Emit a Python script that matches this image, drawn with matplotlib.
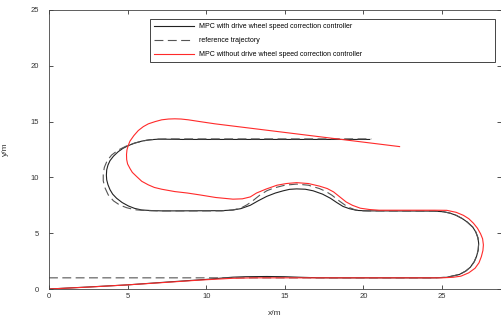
import matplotlib
matplotlib.use("Agg")
import matplotlib.pyplot as plt

plt.rcParams['font.family'] = ['Liberation Sans', 'DejaVu Sans']

# reference trajectory (dashed)
ref_x = [0, 24.5, 25.3, 26.1, 26.5, 26.8, 27.05, 27.2, 27.3, 27.33, 27.28,
         27.15, 26.95, 26.6, 26.3, 25.9, 25.5, 25.1, 24.5,
         20.0, 19.5, 19.0, 18.5, 18.0, 17.6, 17.2, 16.5, 15.75, 15.0, 14.3,
         13.85, 13.4, 13.0, 12.6, 12.2, 11.7, 11.0, 7.0, 6.2, 5.47, 4.95,
         4.5, 4.1, 3.77, 3.55, 3.45, 3.45, 3.52, 3.7, 3.98, 4.4, 4.9, 5.5,
         6.2, 6.9, 7.6, 20.5]
ref_y = [1, 1.0, 1.05, 1.3, 1.6, 1.95, 2.45, 2.95, 3.5, 4.1, 4.6,
         5.1, 5.55, 6.0, 6.3, 6.6, 6.8, 6.92, 6.98,
         7.0, 7.08, 7.35, 7.85, 8.4, 8.75, 9.0, 9.3, 9.4, 9.3, 9.05,
         8.8, 8.4, 7.95, 7.55, 7.25, 7.08, 7.0, 7.0, 7.02, 7.1, 7.28,
         7.52, 7.9, 8.43, 9.1, 9.7, 10.3, 10.9, 11.5, 12.0, 12.45, 12.8, 13.1,
         13.33, 13.43, 13.45, 13.45]

# MPC with drive wheel speed correction controller (black)
mpc_x = [0, 2.5, 5.0, 7.5, 10.0, 11.0, 11.7, 12.5, 13.85, 15.0, 16.0, 17.0,
         18.0, 24.5, 25.3, 26.1, 26.5, 26.8, 27.05, 27.2, 27.3, 27.33, 27.28,
         27.15, 26.95, 26.6, 26.3, 25.9, 25.5, 25.1, 24.5,
         21.0, 20.3, 19.6, 19.1, 18.7, 18.3, 17.9, 17.4, 16.8, 16.3, 15.75,
         15.3, 14.9, 14.4, 13.85, 13.3, 12.8, 12.2, 11.7, 11.0, 8.0, 7.17,
         6.5, 5.9, 5.45, 5.05, 4.65, 4.3, 4.05, 3.88, 3.75, 3.67, 3.65, 3.67,
         3.75, 3.88, 4.1, 4.4, 4.7, 5.05, 5.4, 5.9, 6.4, 6.9, 7.5, 8.5, 20.4]
mpc_y = [0, 0.18, 0.37, 0.62, 0.86, 0.98, 1.06, 1.1, 1.12, 1.1, 1.05, 1.01,
         1.0, 1.0, 1.05, 1.3, 1.6, 1.95, 2.45, 2.95, 3.5, 4.1, 4.6,
         5.1, 5.55, 6.0, 6.3, 6.6, 6.8, 6.92, 6.98,
         7.0, 7.0, 7.04, 7.2, 7.4, 7.75, 8.13, 8.5, 8.8, 8.94, 8.97,
         8.93, 8.8, 8.6, 8.3, 7.9, 7.5, 7.2, 7.08, 7.02, 7.0, 7.0,
         7.03, 7.08, 7.22, 7.44, 7.75, 8.13, 8.5, 8.9, 9.35, 9.78, 10.2, 10.67,
         11.1, 11.5, 11.9, 12.3, 12.6, 12.85, 13.05, 13.25, 13.37, 13.42,
         13.42, 13.4, 13.4]

# MPC without drive wheel speed correction controller (red)
red_x = [0, 2.5, 5.0, 7.5, 9.6, 11.7, 13.0, 25.0, 25.7, 26.2, 26.7, 27.1,
         27.35, 27.5, 27.6, 27.63, 27.58, 27.45, 27.25, 27.0, 26.7, 26.36,
         25.9, 25.3, 24.5, 21.0, 20.4, 19.8, 19.3, 18.9, 18.5, 18.1, 17.7,
         17.2, 16.5, 15.75, 15.1, 14.5, 13.8, 13.2, 12.8, 12.3, 11.7, 10.6,
         9.6, 8.8, 8.0, 7.17, 6.7, 6.32, 5.9, 5.58, 5.3, 5.15, 5.0, 4.94,
         4.93, 4.96, 5.05, 5.15, 5.4, 5.68, 6.0, 6.32, 6.75, 7.17, 7.6, 8.0,
         8.4, 8.86, 9.6, 10.56, 22.3]
red_y = [0, 0.17, 0.37, 0.6, 0.8, 0.96, 1.0, 1.0, 1.05, 1.15, 1.45, 1.86,
         2.35, 2.9, 3.45, 3.95, 4.5, 4.95, 5.45, 5.89, 6.3, 6.6,
         6.87, 7.05, 7.06, 7.06, 7.12, 7.24, 7.5, 7.8, 8.25, 8.7, 9.0,
         9.22, 9.45, 9.53, 9.45, 9.3, 8.95, 8.6, 8.25, 8.08, 8.05, 8.2,
         8.43, 8.6, 8.73, 8.94, 9.1, 9.33, 9.65, 10.07, 10.45, 10.8, 11.2, 11.6,
         12.05, 12.47, 12.9, 13.25, 13.75, 14.2, 14.55, 14.8, 15.0, 15.16,
         15.23, 15.25, 15.23, 15.16, 15.0, 14.8, 12.76]

labels = ['MPC with drive wheel speed correction controller',
          'reference trajectory',
          'MPC without drive wheel speed correction controller']

fig = plt.figure(figsize=(5.02, 3.2), dpi=100)
ax = fig.add_axes([49 / 502, 31 / 320, 452 / 502, 279 / 320])

ax.plot(mpc_x, mpc_y, color='#222222', lw=0.8, label=labels[0])
ax.plot(ref_x, ref_y, color='#555555', lw=0.8, ls=(0, (8, 4)), label=labels[1])
ax.plot(red_x, red_y, color='#ff2a2a', lw=0.8, label=labels[2])

ax.set_xlim(0, 28.75)
ax.set_ylim(0, 25)
ax.set_xticks([0, 5, 10, 15, 20, 25])
ax.set_yticks([0, 5, 10, 15, 20, 25])
ax.tick_params(direction='in', length=3, width=0.6, labelsize=5.5,
               colors='#333333', top=True, right=True)
ax.tick_params(axis='y', pad=7)
ax.tick_params(axis='x', pad=3)
ax.tick_params(labeltop=False, labelright=False)
for s in ax.spines.values():
    s.set_color('#444444')
    s.set_linewidth(0.6)

ax.set_xlabel('x/m', fontsize=6, color='#333333', labelpad=7)
ax.set_ylabel('y/m', fontsize=6, color='#333333', labelpad=16)

leg = ax.legend(loc='upper left', bbox_to_anchor=(0.223, 0.814, 0.764, 0.154),
                mode='expand', borderaxespad=0, fontsize=5, handlelength=5.8,
                handletextpad=0.7, labelspacing=1.0, fancybox=False,
                framealpha=1, edgecolor='#444444', borderpad=0.6)
leg.get_frame().set_linewidth(0.7)

fig.savefig('out.png', dpi=100)
